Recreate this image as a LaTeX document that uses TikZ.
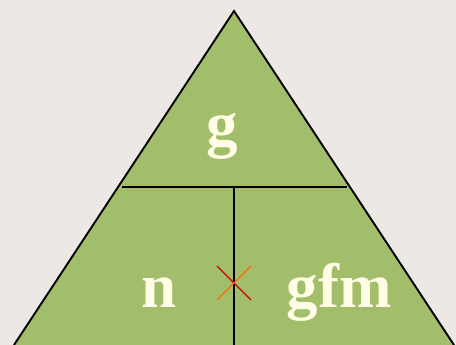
\documentclass[tikz,border=0pt]{standalone}
\usepackage{fontspec}
\setmainfont{Liberation Serif}
\definecolor{bgc}{HTML}{EDE8E5}
\definecolor{trig}{HTML}{A3BE6B}
\definecolor{txtc}{HTML}{FFFDE6}
\definecolor{xred}{HTML}{CC0000}
\definecolor{xorange}{HTML}{FF6600}
\begin{document}
\begin{tikzpicture}[x=1pt,y=-1pt,
  lbl/.style={font=\fontsize{63}{63}\selectfont\bfseries, text=txtc, inner sep=0pt, anchor=base},
  divline/.style={black, line width=1.9pt}]
\fill[bgc] (0,0) rectangle (456,345);
\useasboundingbox (0,0) rectangle (456,345);
\coordinate (apex) at (234,11);
\coordinate (bl) at (14,345);
\coordinate (br) at (454,345);
\begin{scope}
\clip (0,0) rectangle (456,345);
\filldraw[fill=trig, draw=black, line width=1.9pt] (bl) -- (apex) -- (br);
\end{scope}
\coordinate (hl) at (122,187);
\coordinate (hr) at (347,187);
\coordinate (vt) at (234,187);
\coordinate (vb) at (234,345);
\draw[divline] (hl) -- (hr);
\draw[divline] (vt) -- (vb);
\node[lbl] (g) at (222,146) {g};
\node[lbl] (n) at (159,307) {n};
\node[lbl] (gfm) at (339,307) {gfm};
\coordinate (xc) at (234,283);
\draw[xred, line width=1.4pt] ([shift={(-17,-17)}]xc) -- ([shift={(17,17)}]xc);
\draw[xorange, line width=1.4pt] ([shift={(-17,17)}]xc) -- ([shift={(17,-17)}]xc);
\end{tikzpicture}
\end{document}
